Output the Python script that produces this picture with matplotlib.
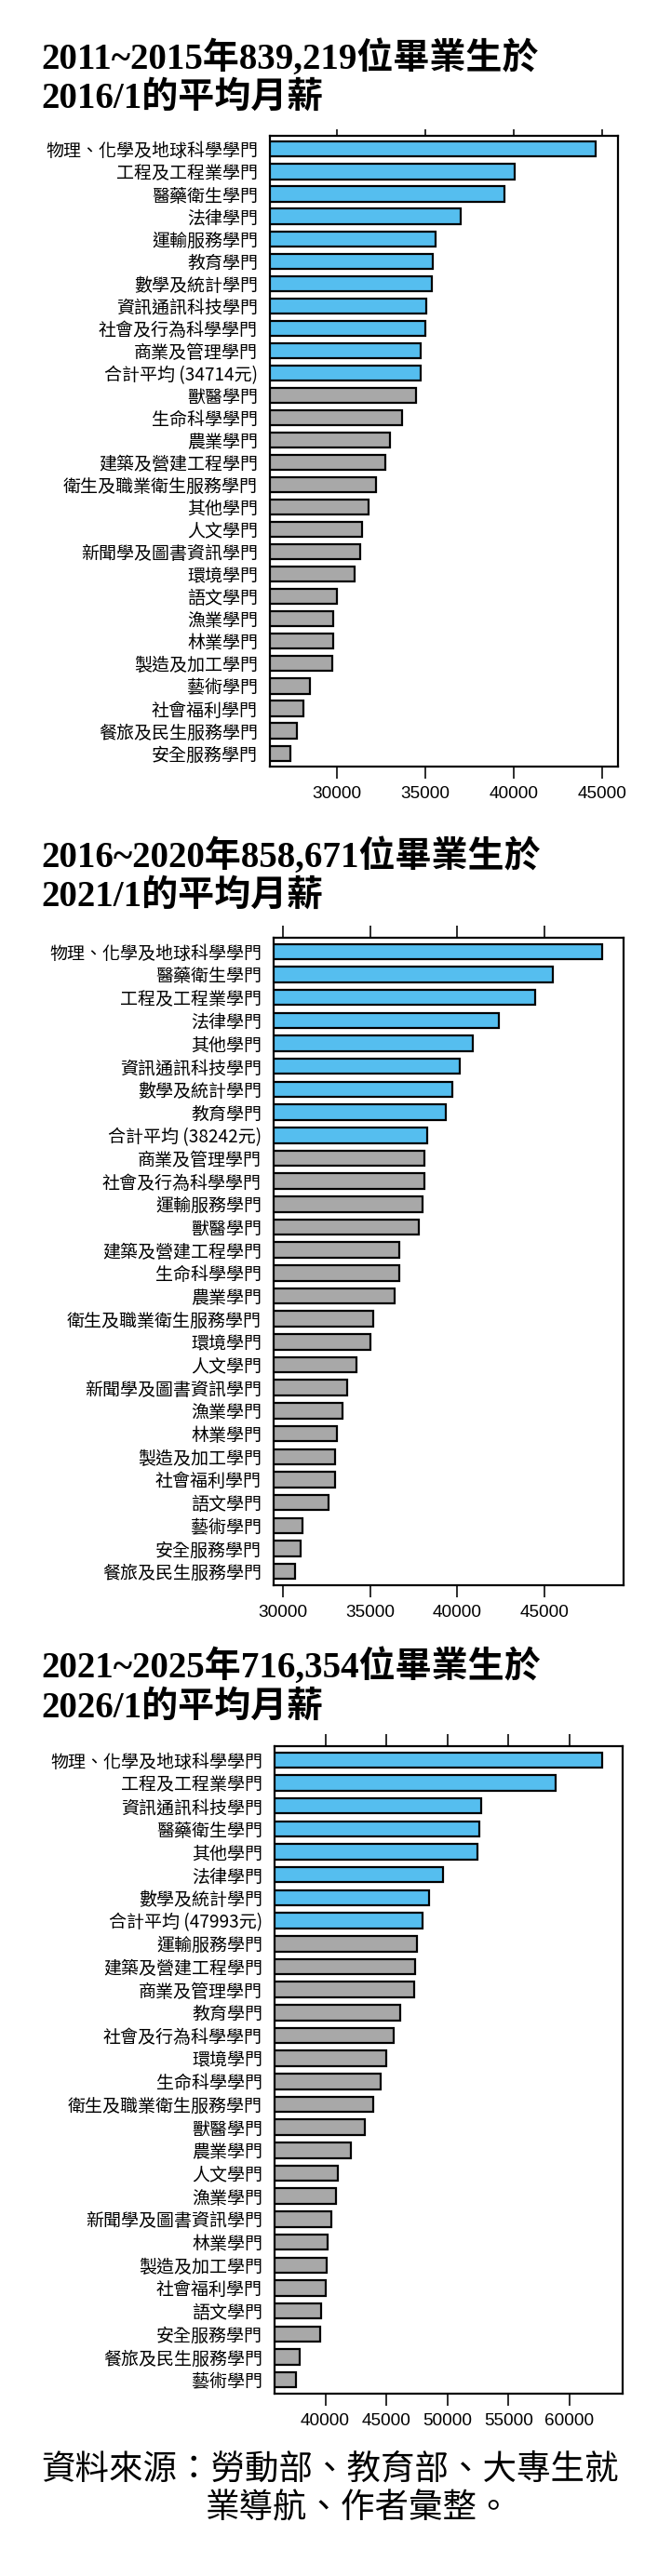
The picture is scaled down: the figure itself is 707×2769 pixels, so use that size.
import matplotlib
matplotlib.use('Agg')
import matplotlib.pyplot as plt

W, H = 707, 2769
DPI = 100
PX = 72 / DPI  # points per pixel

# ---- data: 2011~2015 graduates, salary in 2016/1 ----
labels_2016 = ['物理、化學及地球科學學門', '工程及工程業學門', '醫藥衛生學門', '法律學門',
               '運輸服務學門', '教育學門', '數學及統計學門', '資訊通訊科技學門',
               '社會及行為科學學門', '商業及管理學門', '合計平均 (34714元)', '獸醫學門',
               '生命科學學門', '農業學門', '建築及營建工程學門', '衛生及職業衛生服務學門',
               '其他學門', '人文學門', '新聞學及圖書資訊學門', '環境學門', '語文學門',
               '漁業學門', '林業學門', '製造及加工學門', '藝術學門', '社會福利學門',
               '餐旅及民生服務學門', '安全服務學門']
salary_2016 = [44600, 40050, 39430, 36960, 35540, 35400, 35330, 35020, 35000, 34720,
               34714, 34460, 33660, 32970, 32710, 32220, 31750, 31420, 31320, 30990,
               29980, 29790, 29760, 29740, 28470, 28110, 27740, 27380]
n_hi_2016 = 11

# ---- 2016~2020 graduates, salary in 2021/1 ----
labels_2021 = ['物理、化學及地球科學學門', '醫藥衛生學門', '工程及工程業學門', '法律學門',
               '其他學門', '資訊通訊科技學門', '數學及統計學門', '教育學門',
               '合計平均 (38242元)', '商業及管理學門', '社會及行為科學學門', '運輸服務學門',
               '獸醫學門', '建築及營建工程學門', '生命科學學門', '農業學門',
               '衛生及職業衛生服務學門', '環境學門', '人文學門', '新聞學及圖書資訊學門',
               '漁業學門', '林業學門', '製造及加工學門', '社會福利學門', '語文學門',
               '藝術學門', '安全服務學門', '餐旅及民生服務學門']
salary_2021 = [48310, 45480, 44440, 42370, 40890, 40150, 39690, 39320, 38242, 38120,
               38090, 38000, 37800, 36690, 36670, 36380, 35150, 35020, 34200, 33670,
               33410, 33120, 33000, 32970, 32610, 31140, 31040, 30680]
n_hi_2021 = 9

# ---- 2021~2025 graduates, salary in 2026/1 ----
labels_2026 = ['物理、化學及地球科學學門', '工程及工程業學門', '資訊通訊科技學門', '醫藥衛生學門',
               '其他學門', '法律學門', '數學及統計學門', '合計平均 (47993元)', '運輸服務學門',
               '建築及營建工程學門', '商業及管理學門', '教育學門', '社會及行為科學學門',
               '環境學門', '生命科學學門', '衛生及職業衛生服務學門', '獸醫學門', '農業學門',
               '人文學門', '漁業學門', '新聞學及圖書資訊學門', '林業學門', '製造及加工學門',
               '社會福利學門', '語文學門', '安全服務學門', '餐旅及民生服務學門', '藝術學門']
salary_2026 = [62650, 58870, 52750, 52580, 52470, 49620, 48490, 47993, 47530, 47390,
               47290, 46150, 45600, 45020, 44500, 43950, 43270, 42100, 41030, 40860,
               40480, 40210, 40100, 40000, 39690, 39550, 37870, 37600]
n_hi_2026 = 8

titles = [('2011~2015年839,219位畢業生於', '2016/1的平均月薪'),
          ('2016~2020年858,671位畢業生於', '2021/1的平均月薪'),
          ('2021~2025年716,354位畢業生於', '2026/1的平均月薪')]
ticks = [[30000, 35000, 40000, 45000],
         [30000, 35000, 40000, 45000],
         [40000, 45000, 50000, 55000, 60000]]
source_lines = ['資料來源：勞動部、教育部、大專生就', '業導航、作者彙整。']

BLUE = '#55BEEF'
GREY = '#A8A8A8'
TITLE_FONT = ['Liberation Serif', 'Noto Sans CJK TC']
LABEL_FONT = ['Noto Sans CJK TC', 'DejaVu Sans']

fig = plt.figure(figsize=(W / DPI, H / DPI), dpi=DPI)


def px_axes(left, top, right, bottom):
    return fig.add_axes([left / W, 1 - bottom / H, (right - left) / W, (bottom - top) / H])


# layout in pixels: box (l, t, r, b), xlim, title baselines, top tick length
layout = [
    ((290, 146, 664, 824), (26200, 45870), (74, 116), 7),
    ((294, 1008, 670, 1704), (29470, 49520), (932, 974), 13),
    ((295, 1877, 669, 2573), (35840, 64360), (1803, 1846), 13),
]
data = [(labels_2016, salary_2016, n_hi_2016),
        (labels_2021, salary_2021, n_hi_2021),
        (labels_2026, salary_2026, n_hi_2026)]

for (labels, vals, n_hi), (box, xlim, base, top_len), (t1, t2), tk in zip(data, layout, titles, ticks):
    for line, b in zip((t1, t2), base):
        fig.text(44 / W, 1 - b / H, line, family=TITLE_FONT, weight='bold',
                 fontsize=39 * PX, va='baseline', ha='left')

    ax = px_axes(*box)
    n = len(vals)
    colors = [BLUE if i < n_hi else GREY for i in range(n)]
    ax.barh(range(n), vals, height=0.67, color=colors, edgecolor='black', linewidth=2.2 * PX)
    ax.set_xlim(*xlim)
    ax.set_ylim(n - 1 + 0.6, -0.6)

    ax.set_yticks(range(n))
    ax.set_yticklabels(labels, family=LABEL_FONT, fontsize=19 * PX)
    ax.tick_params(axis='y', length=0, pad=13 * PX)

    ax.set_xticks(tk)
    ax.set_xticklabels([str(v) for v in tk], family='Liberation Sans', fontsize=19 * PX)
    ax.tick_params(axis='x', which='major', bottom=True, top=True, labeltop=False,
                   direction='out', length=13 * PX, width=1.6 * PX, pad=8 * PX)
    for t in ax.xaxis.get_major_ticks():
        t.tick2line.set_markersize(top_len * PX)

    for s in ax.spines.values():
        s.set_linewidth(2.2 * PX)

fig.text(44 / W, 1 - 2655 / H, source_lines[0], family=LABEL_FONT, fontsize=36.5 * PX,
         va='center', ha='left')
fig.text(221 / W, 1 - 2696 / H, source_lines[1], family=LABEL_FONT, fontsize=36.5 * PX,
         va='center', ha='left')

fig.savefig('out.png', dpi=DPI)
